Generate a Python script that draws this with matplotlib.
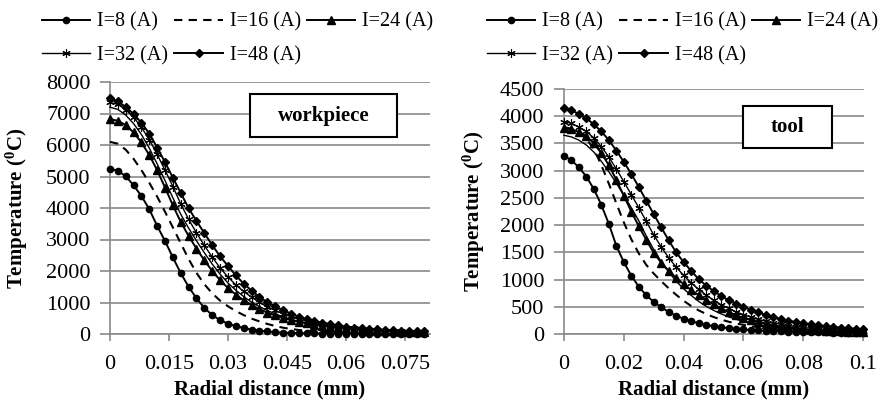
import matplotlib
matplotlib.use('Agg')
import matplotlib.pyplot as plt
from matplotlib.patches import Rectangle

plt.rcParams['font.family'] = ['Liberation Serif', 'DejaVu Serif']
plt.rcParams['mathtext.fontset'] = 'custom'
plt.rcParams['mathtext.rm'] = 'Liberation Serif:bold'
plt.rcParams['mathtext.it'] = 'Liberation Serif:bold:italic'
plt.rcParams['mathtext.bf'] = 'Liberation Serif:bold'

# ---------------- data: workpiece ----------------
wp_x = [0, 0.002, 0.004, 0.006, 0.008, 0.010, 0.012, 0.014, 0.016, 0.018,
        0.020, 0.022, 0.024, 0.026, 0.028, 0.030, 0.032, 0.034, 0.036, 0.038,
        0.040, 0.042, 0.044, 0.046, 0.048, 0.050, 0.052, 0.054, 0.056, 0.058,
        0.060, 0.062, 0.064, 0.066, 0.068, 0.070, 0.072, 0.074, 0.076, 0.078,
        0.080]
wp_I8 = [5250, 5180, 5010, 4720, 4380, 3960, 3430, 2950, 2430, 1930,
         1500, 1130, 830, 600, 440, 330, 250, 190, 140, 105,
         80, 60, 45, 35, 28, 22, 18, 15, 12, 10,
         8, 7, 6, 5, 5, 4, 4, 3, 3, 3, 3]
wp_I16 = [6100, 6040, 5850, 5560, 5200, 4800, 4360, 3880, 3380, 2880,
          2380, 1940, 1580, 1290, 1060, 880, 730, 600, 490, 400,
          320, 255, 200, 160, 128, 104, 85, 70, 58, 48,
          41, 35, 30, 26, 22, 19, 17, 15, 13, 12, 11]
wp_I24 = [6820, 6770, 6630, 6400, 6080, 5680, 5200, 4650, 4080, 3560,
          3110, 2710, 2340, 2000, 1710, 1460, 1250, 1070, 920, 790,
          680, 590, 510, 445, 388, 338, 295, 258, 226, 198,
          174, 153, 135, 120, 107, 96, 86, 78, 71, 65, 60]
wp_I32 = [7350, 7290, 7120, 6880, 6560, 6170, 5700, 5200, 4680, 4130,
          3640, 3210, 2810, 2440, 2100, 1810, 1560, 1350, 1170, 1010,
          870, 750, 650, 560, 480, 415, 358, 310, 268, 232,
          202, 176, 154, 136, 120, 106, 95, 85, 77, 70, 64]
wp_thin = [7200, 7130, 6950, 6680, 6330, 5900, 5400, 4870, 4320, 3800,
           3360, 2960, 2580, 2220, 1900, 1620, 1390, 1190, 1010, 870,
           750, 640, 550, 470, 400, 345, 295, 255, 220, 190,
           165, 145, 127, 112, 99, 88, 79, 71, 64, 58, 53]
wp_I48 = [7480, 7390, 7200, 6990, 6700, 6360, 5920, 5450, 4960, 4480,
          3990, 3590, 3200, 2820, 2470, 2160, 1860, 1600, 1380, 1180,
          1010, 880, 760, 650, 550, 470, 410, 360, 310, 270,
          235, 205, 180, 160, 143, 128, 116, 105, 96, 88, 82]

# ---------------- data: tool ----------------
tool_x = [0, 0.0025, 0.005, 0.0075, 0.010, 0.0125, 0.015, 0.0175, 0.020, 0.0225,
          0.025, 0.0275, 0.030, 0.0325, 0.035, 0.0375, 0.040, 0.0425, 0.045, 0.0475,
          0.050, 0.0525, 0.055, 0.0575, 0.060, 0.0625, 0.065, 0.0675, 0.070, 0.0725,
          0.075, 0.0775, 0.080, 0.0825, 0.085, 0.0875, 0.090, 0.0925, 0.095, 0.0975,
          0.100]
tool_I8 = [3270, 3190, 3060, 2890, 2660, 2370, 2020, 1620, 1320, 1070,
           870, 710, 590, 490, 405, 335, 280, 235, 198, 168,
           143, 123, 107, 94, 83, 74, 66, 59, 53, 48,
           44, 40, 37, 34, 31, 29, 27, 25, 23, 22, 21]
tool_I16 = [3800, 3770, 3700, 3580, 3400, 3100, 2760, 2400, 2050, 1740,
            1480, 1270, 1110, 970, 840, 720, 610, 515, 435, 368,
            312, 265, 226, 194, 167, 144, 125, 109, 96, 85,
            76, 68, 61, 55, 50, 46, 42, 39, 36, 33, 31]
tool_I24 = [3780, 3760, 3710, 3630, 3500, 3320, 3100, 2830, 2540, 2250,
            1980, 1730, 1490, 1310, 1160, 1030, 915, 810, 715, 625,
            545, 470, 405, 348, 298, 255, 218, 187, 160, 138,
            120, 104, 91, 80, 71, 63, 56, 50, 45, 41, 38]
tool_I32 = [3900, 3870, 3800, 3720, 3600, 3440, 3250, 3030, 2800, 2560,
            2320, 2070, 1820, 1600, 1400, 1230, 1075, 940, 820, 715,
            620, 540, 470, 408, 355, 308, 268, 233, 203, 177,
            155, 136, 120, 106, 95, 85, 77, 70, 64, 59, 55]
tool_thin = [3650, 3620, 3560, 3470, 3340, 3170, 2980, 2770, 2550, 2320,
             2080, 1800, 1550, 1330, 1140, 970, 830, 710, 600, 510,
             435, 370, 315, 270, 232, 200, 173, 150, 130, 113,
             99, 87, 77, 68, 61, 55, 50, 45, 41, 38, 35]
tool_I48 = [4145, 4110, 4040, 3960, 3850, 3720, 3560, 3370, 3160, 2940,
            2700, 2450, 2200, 1960, 1720, 1500, 1320, 1160, 1010, 890,
            790, 700, 620, 560, 500, 445, 395, 350, 310, 275,
            245, 218, 195, 175, 158, 142, 128, 116, 105, 96, 88]

series_labels = ['I=8 (A)', 'I=16 (A)', 'I=24 (A)', 'I=32 (A)', 'I=48 (A)']

wp_yticks = [0, 1000, 2000, 3000, 4000, 5000, 6000, 7000, 8000]
wp_xticks = [0, 0.015, 0.03, 0.045, 0.06, 0.075]
wp_xticklabels = ['0', '0.015', '0.03', '0.045', '0.06', '0.075']
tool_yticks = [0, 500, 1000, 1500, 2000, 2500, 3000, 3500, 4000, 4500]
tool_xticks = [0, 0.02, 0.04, 0.06, 0.08, 0.1]
tool_xticklabels = ['0', '0.02', '0.04', '0.06', '0.08', '0.1']

GRID = '#8a8a8a'

styles = [
    dict(color='black', lw=1.4, marker='o', ms=4.5),
    dict(color='black', lw=1.5, ls=(0, (4, 3))),
    dict(color='black', lw=1.4, marker='^', ms=5.5),
    dict(color='black', lw=1.0, marker=(6, 2, 0), ms=6, mew=0.8),
    dict(color='black', lw=1.4, marker='D', ms=4),
]

fig = plt.figure(figsize=(8.79, 4.04), dpi=100)
ax1 = fig.add_axes([110 / 879, 70 / 404, 320 / 879, 252 / 404])
ax2 = fig.add_axes([564 / 879, 70 / 404, 300 / 879, 245 / 404])


def draw(ax, x, thin, ys):
    ax.plot(x, thin, color='black', lw=1.0, label='_nolegend_', clip_on=False, zorder=3)
    handles = []
    for y, st, lab in zip(ys, styles, series_labels):
        h, = ax.plot(x, y, label=lab, clip_on=False, zorder=4, **st)
        handles.append(h)
    return handles


h1 = draw(ax1, wp_x, wp_thin, [wp_I8, wp_I16, wp_I24, wp_I32, wp_I48])
h2 = draw(ax2, tool_x, tool_thin, [tool_I8, tool_I16, tool_I24, tool_I32, tool_I48])


def style_axes(ax, yticks, xticks, xticklabels, xmax, ymax):
    ax.set_xlim(0, xmax)
    ax.set_ylim(0, ymax)
    ax.set_yticks(yticks)
    ax.set_xticks(xticks)
    ax.set_xticklabels(xticklabels)
    ax.yaxis.grid(True, color=GRID, lw=1.2)
    ax.set_axisbelow(True)
    for s in ['top', 'right']:
        ax.spines[s].set_visible(False)
    for s in ['left', 'bottom']:
        ax.spines[s].set_color(GRID)
        ax.spines[s].set_linewidth(1.2)
    ax.tick_params(axis='y', length=7, width=1.2, color=GRID, pad=7, labelsize=16)
    ax.tick_params(axis='x', length=5, width=1.2, color=GRID, pad=10, labelsize=16)
    ax.set_xlabel('Radial distance (mm)', fontsize=15, fontweight='bold')
    ax.set_ylabel('Temperature ($^{0}$C)', fontsize=15, fontweight='bold')


style_axes(ax1, wp_yticks, wp_xticks, wp_xticklabels, 0.0814, 8000)
style_axes(ax2, tool_yticks, tool_xticks, tool_xticklabels, 0.1003, 4500)
ax1.xaxis.set_label_coords(0.5, -0.18)
ax2.xaxis.set_label_coords(0.5, -0.185)
ax1.yaxis.set_label_coords(-0.25, 0.5)
ax2.yaxis.set_label_coords(-0.257, 0.5)

# labelled boxes
ax1.add_patch(Rectangle((0.4375, 0.782), 0.4595, 0.17, transform=ax1.transAxes,
                        fc='white', ec='black', lw=1.5, zorder=6))
ax1.text(0.4375 + 0.4595 / 2, 0.782 + 0.085, 'workpiece', transform=ax1.transAxes,
         ha='center', va='center', fontsize=15, fontweight='bold', zorder=7)
ax2.add_patch(Rectangle((0.596, 0.759), 0.296, 0.172, transform=ax2.transAxes,
                        fc='white', ec='black', lw=1.5, zorder=6))
ax2.text(0.596 + 0.148, 0.759 + 0.086, 'tool', transform=ax2.transAxes,
         ha='center', va='center', fontsize=15, fontweight='bold', zorder=7)

# legends (row-wise order: 8,16,24 / 32,48)
order = [0, 3, 1, 4, 2]
for hs, x0 in [(h1, 42 / 879), (h2, 487 / 879)]:
    fig.legend([hs[i] for i in order], [series_labels[i] for i in order],
               ncol=3, loc='center left', bbox_to_anchor=(x0, 1 - 39 / 404),
               frameon=False, fontsize=14.5, handlelength=2.4, handletextpad=0.35,
               columnspacing=0.3, labelspacing=0.7, borderpad=0, borderaxespad=0)

fig.savefig('out.png', dpi=100)
